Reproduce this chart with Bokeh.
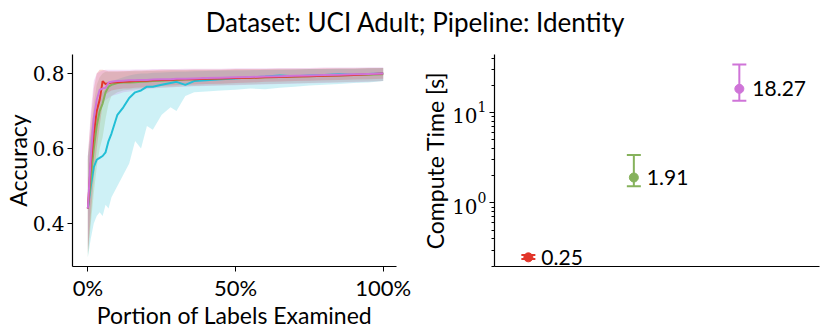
from bokeh.plotting import figure
from bokeh.models import Range1d, FixedTicker, Div, ColumnDataSource
from bokeh.layouts import column, row
from bokeh.embed import file_html
from bokeh.resources import INLINE

# ---------------- data ----------------
title_text = "Dataset: UCI Adult; Pipeline: Identity"

x_pct = [0, 1, 2, 3, 4, 5, 6, 7, 8, 10, 12, 14, 16, 18, 20, 22, 25, 28, 30, 33, 36, 40,
         45, 50, 55, 60, 65, 70, 75, 80, 85, 90, 95, 100]

cyan_mean = [0.44, 0.50, 0.55, 0.57, 0.575, 0.58, 0.59, 0.62, 0.64, 0.69, 0.71, 0.735, 0.75, 0.755, 0.765, 0.765,
             0.77, 0.775, 0.778, 0.77, 0.78, 0.782, 0.785, 0.787, 0.79, 0.792, 0.795, 0.793, 0.795, 0.796, 0.798, 0.797, 0.799, 0.80]
cyan_lo = [0.31, 0.36, 0.40, 0.42, 0.43, 0.42, 0.45, 0.44, 0.47, 0.50, 0.53, 0.56, 0.62, 0.60, 0.66, 0.65,
           0.69, 0.71, 0.70, 0.74, 0.75, 0.752, 0.755, 0.757, 0.76, 0.758, 0.762, 0.765, 0.768, 0.77, 0.772, 0.775, 0.776, 0.78]
cyan_hi = [0.58, 0.64, 0.70, 0.72, 0.74, 0.75, 0.76, 0.77, 0.78, 0.785, 0.79, 0.795, 0.798, 0.80, 0.80, 0.802,
           0.803, 0.804, 0.805, 0.805, 0.806, 0.807, 0.808, 0.808, 0.809, 0.81, 0.81, 0.811, 0.812, 0.812, 0.813, 0.813, 0.814, 0.815]

red_mean = [0.44, 0.56, 0.64, 0.70, 0.73, 0.78, 0.772, 0.774, 0.776, 0.777, 0.778, 0.779, 0.78, 0.781, 0.781, 0.782,
            0.783, 0.783, 0.784, 0.785, 0.785, 0.786, 0.787, 0.788, 0.789, 0.79, 0.791, 0.792, 0.793, 0.794, 0.795, 0.796, 0.798, 0.80]
red_lo = [0.32, 0.42, 0.52, 0.60, 0.66, 0.72, 0.745, 0.75, 0.755, 0.758, 0.76, 0.76, 0.762, 0.763, 0.765, 0.765,
          0.767, 0.768, 0.769, 0.77, 0.771, 0.772, 0.773, 0.775, 0.776, 0.778, 0.779, 0.78, 0.781, 0.782, 0.783, 0.784, 0.785, 0.786]
red_hi = [0.58, 0.68, 0.76, 0.80, 0.81, 0.81, 0.808, 0.806, 0.806, 0.806, 0.807, 0.807, 0.808, 0.808, 0.809, 0.809,
          0.81, 0.81, 0.81, 0.81, 0.811, 0.811, 0.811, 0.812, 0.812, 0.812, 0.813, 0.813, 0.813, 0.814, 0.814, 0.814, 0.815, 0.815]

green_mean = [0.44, 0.52, 0.60, 0.66, 0.70, 0.72, 0.75, 0.765, 0.77, 0.775, 0.776, 0.776, 0.777, 0.778, 0.779, 0.78,
              0.781, 0.782, 0.783, 0.784, 0.785, 0.786, 0.787, 0.788, 0.789, 0.79, 0.791, 0.792, 0.793, 0.794, 0.795, 0.796, 0.797, 0.798]
green_lo = [0.31, 0.40, 0.48, 0.55, 0.60, 0.63, 0.68, 0.72, 0.74, 0.75, 0.755, 0.757, 0.758, 0.76, 0.761, 0.762,
            0.763, 0.764, 0.765, 0.766, 0.767, 0.768, 0.769, 0.77, 0.771, 0.772, 0.773, 0.774, 0.775, 0.776, 0.777, 0.778, 0.779, 0.78]
green_hi = [0.57, 0.64, 0.72, 0.77, 0.79, 0.80, 0.805, 0.805, 0.805, 0.805, 0.805, 0.806, 0.806, 0.806, 0.807, 0.807,
            0.807, 0.808, 0.808, 0.808, 0.809, 0.809, 0.809, 0.81, 0.81, 0.81, 0.811, 0.811, 0.812, 0.812, 0.813, 0.813, 0.814, 0.815]

purple_mean = [0.44, 0.58, 0.68, 0.73, 0.757, 0.76, 0.762, 0.776, 0.778, 0.78, 0.781, 0.782, 0.782, 0.783, 0.783, 0.784,
               0.785, 0.785, 0.786, 0.786, 0.787, 0.788, 0.789, 0.79, 0.791, 0.792, 0.793, 0.794, 0.795, 0.796, 0.797, 0.798, 0.799, 0.80]
purple_lo = [0.33, 0.46, 0.58, 0.65, 0.70, 0.72, 0.73, 0.735, 0.74, 0.745, 0.75, 0.752, 0.755, 0.757, 0.758, 0.76,
             0.762, 0.763, 0.764, 0.765, 0.766, 0.767, 0.768, 0.769, 0.77, 0.771, 0.772, 0.773, 0.774, 0.775, 0.776, 0.777, 0.778, 0.78]
purple_hi = [0.58, 0.70, 0.78, 0.80, 0.805, 0.808, 0.81, 0.81, 0.81, 0.81, 0.81, 0.81, 0.811, 0.811, 0.811, 0.812,
             0.812, 0.812, 0.812, 0.813, 0.813, 0.813, 0.813, 0.814, 0.814, 0.814, 0.815, 0.815, 0.815, 0.816, 0.816, 0.816, 0.817, 0.817]

acc_ticks = [0.4, 0.6, 0.8]
acc_tick_labels = ["0.4", "0.6", "0.8"]
pct_ticks = [0, 50, 100]
pct_tick_labels = ["0%", "50%", "100%"]

method_pos = [0, 1, 2]
times = [0.25, 1.91, 18.27]
times_lo = [0.24, 1.53, 13.5]
times_hi = [0.265, 3.39, 33.9]
time_labels = ["0.25", "1.91", "18.27"]
time_colors = ["#e2362b", "#86b25c", "#cf74d8"]

SERIF = "DejaVu Serif"
SANS = "Lato"

C_CYAN = "#22bfd6"
C_RED = "#e2362b"
C_GREEN = "#86b25c"
C_PURPLE = "#cf74d8"


def style_axis(ax):
    ax.axis_line_color = "black"
    ax.axis_line_width = 1.2
    ax.major_tick_line_color = "black"
    ax.major_tick_out = 5
    ax.major_tick_in = 0
    ax.minor_tick_line_color = None
    ax.major_label_text_font = SERIF
    ax.major_label_text_font_size = "20px"
    ax.major_label_text_color = "black"
    ax.axis_label_text_font = SANS
    ax.axis_label_text_font_size = "23px"
    ax.axis_label_text_font_style = "normal"
    ax.axis_label_text_color = "black"


# ---------------- left plot ----------------
p1 = figure(frame_width=324, frame_height=212, x_range=Range1d(-5.2, 104.5), y_range=Range1d(0.285, 0.851),
            output_backend="svg", toolbar_location=None,
            min_border_left=60, min_border_right=18, min_border_top=18, min_border_bottom=30)
p1.outline_line_color = None
p1.grid.visible = False
p1.background_fill_color = "white"

series = [
    (cyan_mean, cyan_lo, cyan_hi, C_CYAN),
    (green_mean, green_lo, green_hi, C_GREEN),
    (red_mean, red_lo, red_hi, C_RED),
    (purple_mean, purple_lo, purple_hi, C_PURPLE),
]
for m, lo, hi, c in series:
    p1.varea(x=x_pct, y1=lo, y2=hi, fill_color=c, fill_alpha=0.22)
for m, lo, hi, c in series:
    p1.line(x=x_pct, y=m, line_color=c, line_width=2)

style_axis(p1.xaxis[0])
style_axis(p1.yaxis[0])
p1.xaxis.ticker = FixedTicker(ticks=pct_ticks)
p1.xaxis.major_label_overrides = dict(zip(pct_ticks, pct_tick_labels))
p1.xaxis.major_label_text_font = SANS
p1.xaxis.major_label_text_font_size = "22px"
p1.xaxis.axis_label = "Portion of Labels Examined"
p1.xaxis.major_label_standoff = 2
p1.xaxis.axis_label_standoff = -3
p1.yaxis.ticker = FixedTicker(ticks=acc_ticks)
p1.yaxis.major_label_overrides = dict(zip(acc_ticks, acc_tick_labels))
p1.yaxis.axis_label = "Accuracy"
p1.yaxis.major_label_standoff = 3
p1.yaxis.axis_label_standoff = -2

# ---------------- right plot ----------------
src = ColumnDataSource(dict(x=method_pos, t=times, lo=times_lo, hi=times_hi, lab=time_labels, c=time_colors))
p2 = figure(frame_width=325, frame_height=212, x_range=Range1d(-0.321, 2.76), y_range=Range1d(0.198, 43.8),
            y_axis_type="log", output_backend="svg", toolbar_location=None,
            min_border_left=80, min_border_right=2, min_border_top=18, min_border_bottom=30)
p2.outline_line_color = None
p2.grid.visible = False

p2.segment(x0="x", y0="lo", x1="x", y1="hi", line_color="c", line_width=2, source=src)
p2.scatter(x="x", y="lo", marker="dash", size=14, line_color="c", line_width=2, source=src)
p2.scatter(x="x", y="hi", marker="dash", size=14, line_color="c", line_width=2, source=src)
p2.scatter(x="x", y="t", marker="circle", size=9, fill_color="c", line_color="c", source=src)
p2.text(x="x", y="t", text="lab", x_offset=13, text_baseline="middle", text_align="left",
        text_font_size="21px", text_font={"value": SANS}, text_color="black", source=src)

style_axis(p2.xaxis[0])
style_axis(p2.yaxis[0])
p2.xaxis.major_tick_line_color = None
p2.xaxis.major_label_text_font_size = "0px"
p2.xaxis.ticker = FixedTicker(ticks=[])
p2.yaxis.ticker = FixedTicker(ticks=[1, 10],
                              minor_ticks=[0.2, 0.3, 0.4, 0.5, 0.6, 0.7, 0.8, 0.9,
                                           2, 3, 4, 5, 6, 7, 8, 9, 20, 30, 40])
p2.yaxis.minor_tick_line_color = "black"
p2.yaxis.minor_tick_out = 3
p2.yaxis.minor_tick_in = 0
p2.yaxis.axis_label = "Compute Time [s]"
p2.yaxis.major_label_standoff = 3
p2.yaxis.axis_label_standoff = 0

title = Div(text=title_text, width=830, height=36, margin=(0, 0, 0, 0),
            styles={"text-align": "center", "font-size": "26px", "font-family": SANS,
                    "color": "black", "line-height": "30px", "padding-top": "7px", "width": "830px"})

layout = column(title, row(p1, p2))
open("out.html", "w").write(file_html(layout, INLINE))
